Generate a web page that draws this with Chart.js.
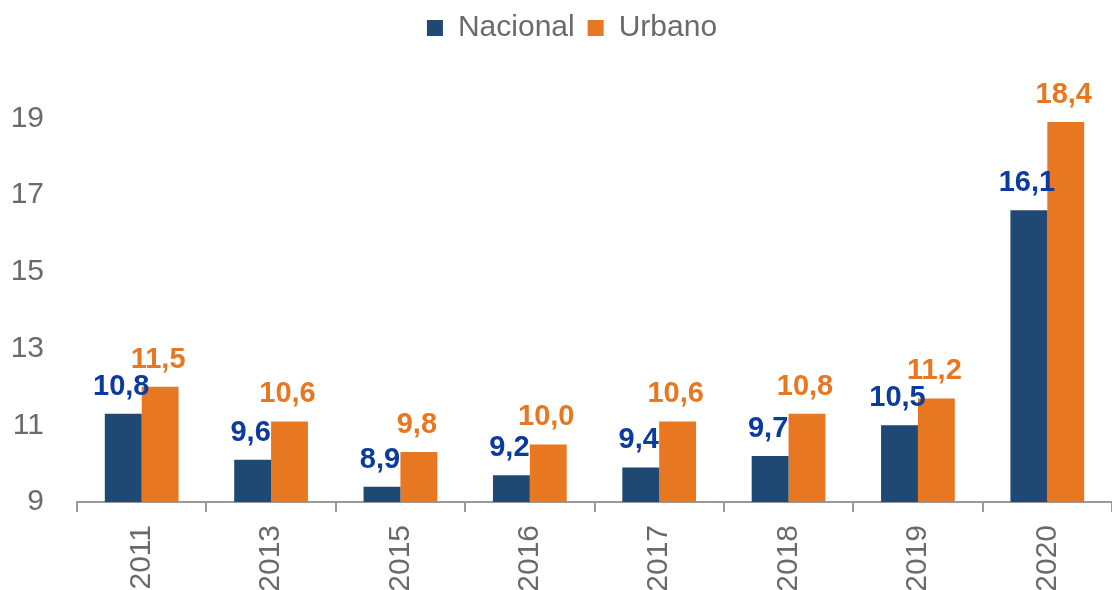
<!DOCTYPE html>
<html>
<head>
<meta charset="utf-8">
<script src="https://cdn.jsdelivr.net/npm/chart.js@4"></script>
<style>
  html, body { margin: 0; padding: 0; background: #ffffff; }
  #wrap { width: 1112px; height: 590px; position: relative; }
</style>
</head>
<body>
<div id="wrap"><canvas id="c" width="1112" height="590"></canvas></div>
<script>
const categories = ['2011', '2013', '2015', '2016', '2017', '2018', '2019', '2020'];
const nacional = [10.8, 9.6, 8.9, 9.2, 9.4, 9.7, 10.5, 16.1];
const urbano = [11.5, 10.6, 9.8, 10.0, 10.6, 10.8, 11.2, 18.4];
const seriesNames = ['Nacional', 'Urbano'];
const yTickValues = [8.5, 10.5, 12.5, 14.5, 16.5, 18.5];

const barColors = ['#1F4973', '#E87722'];
const labelColors = ['#0B3B9E', '#E87722'];
const FONT = "'Liberation Sans', Arial, sans-serif";

const valueLabels = {
  id: 'valueLabels',
  afterDatasetsDraw(chart) {
    const ctx = chart.ctx;
    ctx.save();
    ctx.font = 'bold 29px ' + FONT;
    ctx.textAlign = 'center';
    ctx.textBaseline = 'alphabetic';
    chart.data.datasets.forEach((ds, di) => {
      const meta = chart.getDatasetMeta(di);
      ctx.fillStyle = labelColors[di];
      meta.data.forEach((el, i) => {
        const txt = ds.data[i].toFixed(1).replace('.', ',');
        ctx.fillText(txt, el.x - 2, el.y - 19);
      });
    });
    ctx.restore();
  }
};

const legendShift = {
  id: 'legendShift',
  afterLayout(chart) {
    if (chart.legend) {
      chart.legend.left += 16;
      chart.legend.right += 16;
    }
  }
};

new Chart(document.getElementById('c'), {
  type: 'bar',
  data: {
    labels: categories,
    datasets: [
      { label: seriesNames[0], data: nacional, backgroundColor: barColors[0], borderWidth: 0 },
      { label: seriesNames[1], data: urbano, backgroundColor: barColors[1], borderWidth: 0 }
    ]
  },
  options: {
    responsive: false,
    animation: false,
    events: [],
    layout: { padding: { left: 0, right: 0, top: 0, bottom: 0 } },
    datasets: { bar: { categoryPercentage: 0.57, barPercentage: 1.0 } },
    plugins: {
      legend: {
        position: 'top',
        labels: {
          boxWidth: 16,
          boxHeight: 16,
          padding: 13,
          color: '#6A6A6A',
          font: { family: FONT, size: 30 }
        }
      },
      tooltip: { enabled: false }
    },
    scales: {
      x: {
        offset: true,
        grid: { display: true, drawOnChartArea: false, drawTicks: true, tickLength: 10, color: '#9A9A9A', lineWidth: 2 },
        border: { display: true, color: '#9A9A9A', width: 2 },
        ticks: {
          minRotation: 90, maxRotation: 90, padding: 13,
          color: '#6A6A6A', font: { family: FONT, size: 30 }
        },
        afterFit(scale) { scale.height = 88; }
      },
      y: {
        min: 8.5,
        max: 20.2,
        grid: { display: false, drawTicks: false },
        border: { display: false },
        afterBuildTicks(scale) { scale.ticks = yTickValues.map(v => ({ value: v })); },
        ticks: {
          padding: 33,
          color: '#6A6A6A',
          font: { family: FONT, size: 30 },
          callback: (v) => String(Math.round(v))
        },
        afterFit(scale) { scale.width = 77; }
      }
    }
  },
  plugins: [valueLabels, legendShift]
});
</script>
</body>
</html>
